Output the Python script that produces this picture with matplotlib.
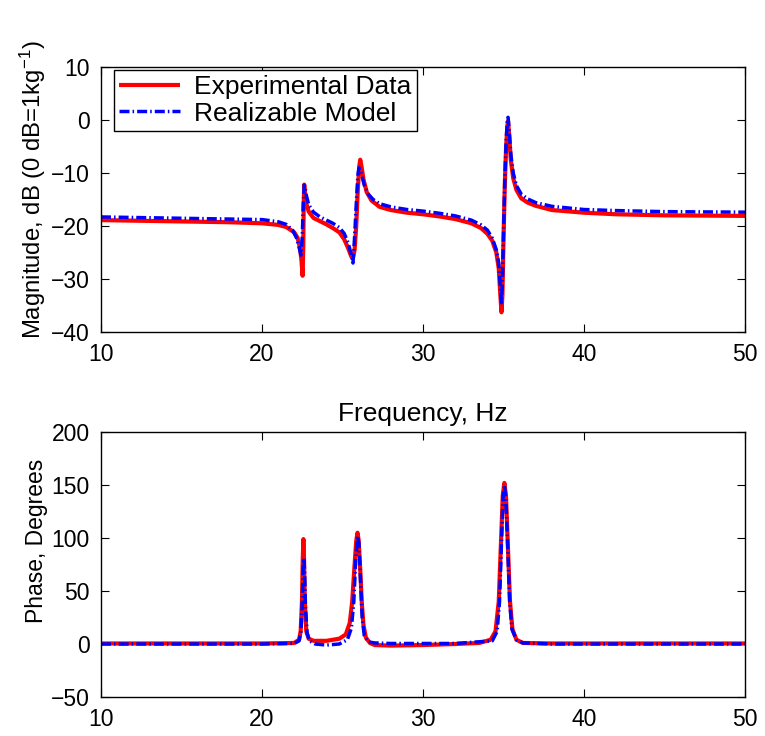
import matplotlib
matplotlib.use("Agg")
import matplotlib.pyplot as plt

# ===============================
# data
# ===============================
# magnitude, experimental data (Hz, dB)
exp_mag_f = [10.0, 12.0, 14.0, 16.0, 18.0, 20.0, 21.0, 21.5, 22.0, 22.2, 22.35, 22.45, 22.52,
             22.56, 22.59, 22.62, 22.66, 22.75, 22.9, 23.2, 23.6, 24.0, 24.4, 24.8, 25.1,
             25.35, 25.55, 25.65, 25.75, 25.85, 25.95, 26.05, 26.1, 26.18, 26.3, 26.5, 26.8,
             27.3, 28.0, 29.0, 30.0, 31.0, 32.0, 33.0, 33.6, 34.0, 34.3, 34.55, 34.7, 34.8,
             34.87, 34.93, 35.0, 35.08, 35.16, 35.24, 35.28, 35.35, 35.45, 35.6, 35.8, 36.1,
             36.5, 37.0, 38.0, 40.0, 42.0, 45.0, 50.0]
exp_mag = [-18.9, -19.0, -19.1, -19.2, -19.3, -19.5, -19.8, -20.2, -21.2, -22.2, -24.0, -26.5, -29.4,
           -24.0, -16.0, -12.2, -13.5, -15.8, -17.3, -18.5, -19.1, -19.7, -20.4, -21.2, -22.5,
           -24.2, -25.8, -26.0, -24.5, -20.0, -13.0, -8.5, -7.5, -8.8, -11.2, -13.6, -15.2,
           -16.4, -17.0, -17.5, -17.8, -18.2, -18.7, -19.5, -20.4, -21.5, -22.8, -25.0, -28.0, -33.0,
           -36.3, -33.0, -22.0, -12.0, -5.0, -1.0, -0.2, -3.0, -7.5, -11.0, -13.2, -14.8,
           -15.6, -16.2, -17.0, -17.5, -17.8, -18.0, -18.1]

# magnitude, realizable model (Hz, dB)
mod_mag_f = [10.0, 12.0, 14.0, 16.0, 18.0, 20.0, 21.0, 21.5, 21.9, 22.15, 22.3, 22.42, 22.5,
             22.56, 22.62, 22.67, 22.75, 22.9, 23.2, 23.6, 24.0, 24.4, 24.8, 25.1, 25.35,
             25.55, 25.65, 25.75, 25.85, 25.95, 26.02, 26.1, 26.2, 26.35, 26.6, 26.9, 27.3,
             28.0, 29.0, 30.0, 31.0, 32.0, 33.0, 33.6, 34.0, 34.3, 34.55, 34.7, 34.8, 34.87,
             34.93, 35.0, 35.08, 35.16, 35.24, 35.28, 35.35, 35.45, 35.6, 35.8, 36.1, 36.5,
             37.0, 38.0, 40.0, 42.0, 45.0, 50.0]
mod_mag = [-18.3, -18.4, -18.5, -18.6, -18.7, -18.8, -19.2, -19.7, -20.8, -22.3, -24.0, -25.5, -22.0,
           -16.0, -12.3, -12.5, -14.2, -16.0, -17.4, -18.3, -18.9, -19.5, -20.3, -21.4, -23.2,
           -25.5, -27.0, -22.0, -16.0, -10.5, -9.0, -9.6, -10.5, -12.3, -14.0, -15.0, -15.8,
           -16.4, -16.9, -17.2, -17.6, -18.1, -18.9, -19.8, -20.8, -22.3, -24.5, -27.0, -31.5, -34.5,
           -30.0, -21.0, -11.0, -4.0, 0.3, 0.5, -2.0, -6.5, -10.0, -12.4, -14.0, -14.9,
           -15.6, -16.3, -16.9, -17.1, -17.3, -17.4]

# phase, experimental data (Hz, degrees)
exp_ph_f = [10.0, 20.0, 22.0, 22.3, 22.4, 22.48, 22.53, 22.57, 22.61, 22.66, 22.75, 22.9, 23.2,
            24.0, 24.8, 25.2, 25.45, 25.6, 25.75, 25.85, 25.93, 26.0, 26.1, 26.2, 26.3, 26.45,
            26.7, 27.0, 28.0, 30.0, 32.0, 33.5, 34.2, 34.5, 34.7, 34.85, 34.95, 35.05, 35.15,
            35.25, 35.4, 35.55, 35.8, 36.2, 38.0, 50.0]
exp_ph = [0.5, 0.5, 1.0, 4.0, 12.0, 40.0, 80.0, 99.0, 80.0, 40.0, 12.0, 5.0, 3.0,
          3.0, 5.0, 9.0, 20.0, 40.0, 75.0, 97.0, 105.0, 98.0, 70.0, 38.0, 18.0, 6.0,
          1.0, -1.0, -1.5, -1.0, 0.0, 1.0, 4.0, 12.0, 40.0, 100.0, 140.0, 152.0, 140.0,
          100.0, 40.0, 14.0, 4.0, 1.0, 0.5, 0.5]

# phase, realizable model (Hz, degrees)
mod_ph_f = [10.0, 20.0, 22.0, 22.3, 22.42, 22.5, 22.56, 22.6, 22.64, 22.7, 22.8, 22.95, 23.3,
            24.0, 24.8, 25.3, 25.55, 25.7, 25.82, 25.93, 26.02, 26.12, 26.22, 26.35, 26.6,
            27.0, 28.0, 32.0, 34.3, 34.6, 34.75, 34.88, 34.97, 35.05, 35.14, 35.24, 35.38,
            35.52, 35.8, 36.2, 38.0, 50.0]
mod_ph = [0.0, 0.0, 0.5, 3.0, 12.0, 40.0, 75.0, 81.0, 70.0, 35.0, 10.0, 3.0, 0.0,
          -1.0, 0.0, 4.0, 15.0, 40.0, 80.0, 102.0, 95.0, 60.0, 25.0, 8.0, 2.0,
          1.0, 0.5, 0.5, 3.0, 12.0, 40.0, 100.0, 140.0, 150.0, 138.0, 100.0, 40.0,
          14.0, 4.0, 1.0, 0.0, 0.0]

mag_ticks = [-40, -30, -20, -10, 0, 10]
ph_ticks = [-50, 0, 50, 100, 150, 200]
freq_ticks = [10, 20, 30, 40, 50]

# ===============================
# style
# ===============================
plt.rcParams["font.family"] = ["Liberation Sans", "DejaVu Sans"]
plt.rcParams["mathtext.fontset"] = "custom"
plt.rcParams["mathtext.rm"] = "Liberation Sans"
plt.rcParams["mathtext.it"] = "Liberation Sans"
plt.rcParams["font.size"] = 16.5
plt.rcParams["lines.scale_dashes"] = False

red_kw = dict(color="red", lw=3.0, solid_capstyle="butt")
blue_dash = (7.2, 2.2, 1.1, 2.2)

fig = plt.figure(figsize=(7.65, 7.36), dpi=100)
ax1 = fig.add_axes([0.132, 0.549, 0.842, 0.360])
ax2 = fig.add_axes([0.132, 0.053, 0.842, 0.360])

# ===============================
# magnitude
# ===============================
ax1.plot(exp_mag_f, exp_mag, label="Experimental Data", **red_kw)
ax1.plot(mod_mag_f, mod_mag, color="blue", lw=2.5, dashes=blue_dash, label="Realizable Model")
ax1.set_xlim(10, 50)
ax1.set_ylim(-40, 10)
ax1.set_yticks(mag_ticks)
ax1.set_xticks(freq_ticks)
ax1.set_ylabel(r"Magnitude, dB (0 dB=1kg$^{-1}$)", fontsize=17.2)
ax1.yaxis.set_label_coords(-0.082, 0.535)
ax1.set_xlabel("Frequency, Hz", fontsize=19)
ax1.xaxis.set_label_coords(0.5, -0.265)
leg = ax1.legend(loc="upper left", bbox_to_anchor=(0.02, 0.99), fancybox=False,
                 edgecolor="black", framealpha=1, borderaxespad=0, handlelength=2.3,
                 borderpad=0.2, labelspacing=0.1, handletextpad=0.55, fontsize=19)
leg.get_frame().set_linewidth(1.0)

# ===============================
# phase
# ===============================
ax2.plot(exp_ph_f, exp_ph, **red_kw)
ax2.plot(mod_ph_f, mod_ph, color="blue", lw=2.5, dashes=blue_dash)
ax2.set_xlim(10, 50)
ax2.set_ylim(-50, 200)
ax2.set_yticks(ph_ticks)
ax2.set_xticks(freq_ticks)
ax2.set_ylabel("Phase, Degrees")
ax2.yaxis.set_label_coords(-0.082, 0.59)

for ax in (ax1, ax2):
    ax.tick_params(direction="in", top=True, right=True, length=6, width=0.8, pad=8)
    for s in ax.spines.values():
        s.set_linewidth(1.0)

fig.savefig("out.png", dpi=100)
